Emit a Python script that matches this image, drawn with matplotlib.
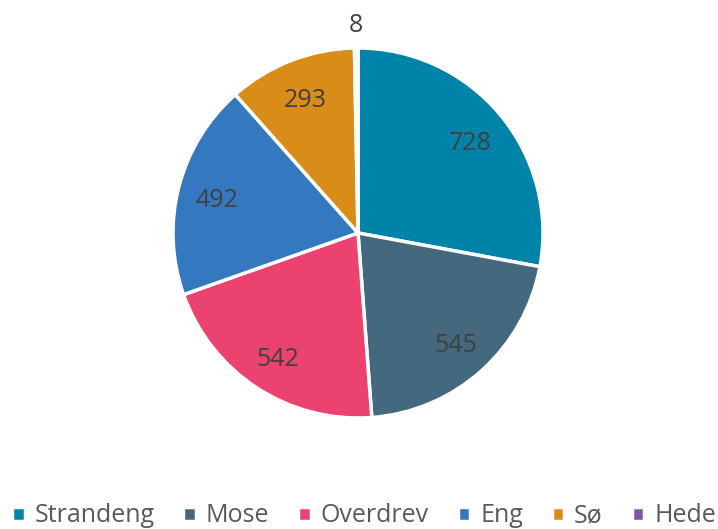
import numpy as np
import matplotlib.pyplot as plt

# Data
categories = ["Strandeng", "Mose", "Overdrev", "Eng", "Sø", "Hede"]
values = [728, 545, 542, 492, 293, 8]
colors = ["#0083A9", "#44687D", "#EC4270", "#3479BF", "#D98C17", "#7B58A6"]

plt.rcParams['font.family'] = ['Open Sans', 'DejaVu Sans']
TEXT = "#404040"

fig = plt.figure(figsize=(7.18, 5.29), dpi=100)
cx, cy, r = 358, 233, 185  # pixel geometry of the pie
ax = fig.add_axes([(cx - r) / 718, (529 - cy - r) / 529, 2 * r / 718, 2 * r / 529])

wedges, _ = ax.pie(values, colors=colors, startangle=90, counterclock=False,
                   radius=1, wedgeprops=dict(edgecolor="white", linewidth=2.5))
ax.set_xlim(-1, 1)
ax.set_ylim(-1, 1)
ax.set_aspect("equal")
ax.axis("off")

# value labels
for w, v in zip(wedges, values):
    ang = np.deg2rad((w.theta1 + w.theta2) / 2)
    dist = 0.79 if v > 50 else 1.14
    ax.text(dist * np.cos(ang), dist * np.sin(ang) - 0.02, str(v), ha="center",
            va="center", fontsize=18, color=TEXT)

fig.legend(wedges, categories, loc="center", bbox_to_anchor=(364 / 718, 1 - 516 / 529),
           ncol=6, frameon=False, fontsize=18, handlelength=0.5, handleheight=0.5,
           handletextpad=0.4, columnspacing=1.15, labelcolor="#595959",
           borderaxespad=0, borderpad=0)

fig.savefig("out.png", dpi=100)
